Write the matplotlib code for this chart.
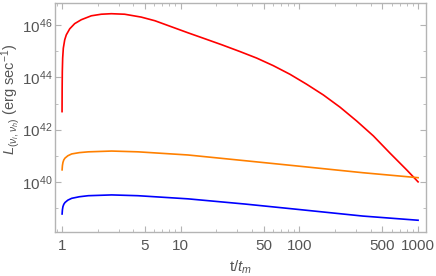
import matplotlib
matplotlib.use("Agg")
import matplotlib.pyplot as plt
import matplotlib.ticker as mticker
import numpy as np

plt.rcParams['font.family'] = ['Liberation Sans', 'DejaVu Sans']
plt.rcParams['mathtext.fontset'] = 'custom'
plt.rcParams['mathtext.rm'] = 'Liberation Sans'
plt.rcParams['mathtext.it'] = 'Liberation Sans:italic'
plt.rcParams['mathtext.bf'] = 'Liberation Sans:bold'

# data (t/t_m, log10 L)
t_red = [1.001, 1.003, 1.006, 1.013, 1.026, 1.054, 1.087, 1.161, 1.279, 1.454, 1.766, 2.142,
         2.603, 3.37, 4.65, 6.07, 11.5, 16.0, 22.2, 31.6, 43.7, 60.3, 83.3, 115, 159,
         220, 304, 420, 580, 801, 1000]
logL_red = [42.69, 43.59, 44.22, 44.74, 45.12, 45.44, 45.63, 45.86, 46.06, 46.21, 46.36, 46.42,
            46.44, 46.42, 46.31, 46.17, 45.71, 45.48, 45.25, 44.99, 44.74, 44.45, 44.12, 43.74, 43.33,
            42.86, 42.33, 41.76, 41.10, 40.46, 40.0]

t_orange = [1.002, 1.008, 1.018, 1.035, 1.06, 1.12, 1.207, 1.4, 1.665, 2.62, 4.37, 11.5, 34.9, 95, 343, 1000]
logL_orange = [40.46, 40.62, 40.74, 40.84, 40.91, 41.00, 41.07, 41.12, 41.15, 41.18, 41.15, 41.03, 40.81, 40.61, 40.35, 40.16]

t_blue = [1.002, 1.008, 1.018, 1.035, 1.06, 1.12, 1.207, 1.4, 1.665, 2.62, 4.37, 11.5, 34.9, 95, 343, 1000]
logL_blue = [38.77, 38.93, 39.05, 39.14, 39.21, 39.30, 39.37, 39.43, 39.47, 39.50, 39.47, 39.35, 39.15, 38.95, 38.69, 38.53]

xticks = [1, 5, 10, 50, 100, 500, 1000]
xticklabels = ['1', '5', '10', '50', '100', '500', '1000']
yticks_exp = [40, 42, 44, 46]

fig = plt.figure(figsize=(4.36, 2.76), dpi=100)
ax = fig.add_axes([55/436, 44/276, 371/436, 229/276])

ax.plot(t_red, 10.0**np.array(logL_red), color='#ff0000', lw=1.2)
ax.plot(t_orange, 10.0**np.array(logL_orange), color='#ff8000', lw=1.2)
ax.plot(t_blue, 10.0**np.array(logL_blue), color='#0000ff', lw=1.2)

ax.set_xscale('log')
ax.set_yscale('log')
ax.set_xlim(0.873, 1166)
ax.set_ylim(10**38.08, 10**46.85)

ax.xaxis.set_major_locator(mticker.FixedLocator(xticks))
ax.xaxis.set_major_formatter(mticker.FixedFormatter(xticklabels))
ax.xaxis.set_minor_locator(mticker.LogLocator(base=10, subs=np.arange(2, 10), numticks=20))
ax.xaxis.set_minor_formatter(mticker.NullFormatter())

ax.yaxis.set_major_locator(mticker.FixedLocator([10.0**e for e in yticks_exp]))
ax.yaxis.set_major_formatter(mticker.FixedFormatter([r'$10^{%d}$' % e for e in yticks_exp]))
ax.yaxis.set_minor_locator(mticker.FixedLocator([10.0**e for e in [39, 41, 43, 45]]))
ax.yaxis.set_minor_formatter(mticker.NullFormatter())

gray = '#b4b4b4'
for s in ax.spines.values():
    s.set_color(gray)
    s.set_linewidth(1.0)
ax.tick_params(which='both', direction='in', top=True, right=True, color=gray,
               labelcolor='#555555', labelsize=11)
ax.tick_params(which='major', length=4, width=0.8)
ax.tick_params(which='minor', length=2.5, width=0.6)
ax.tick_params(axis='x', pad=5)
ax.tick_params(axis='y', pad=2)

ax.set_xlabel(r'$\mathrm{t}/t_m$', color='#555555', fontsize=11)
ax.xaxis.set_label_coords(0.5, -0.118)
ax.set_ylabel(r'$L_{(\nu_i,\nu_h)}$ (erg sec$^{-1}$)', color='#555555', fontsize=10.5)
ax.yaxis.set_label_coords(-0.088, 0.58)

fig.savefig('out.png', dpi=100)
